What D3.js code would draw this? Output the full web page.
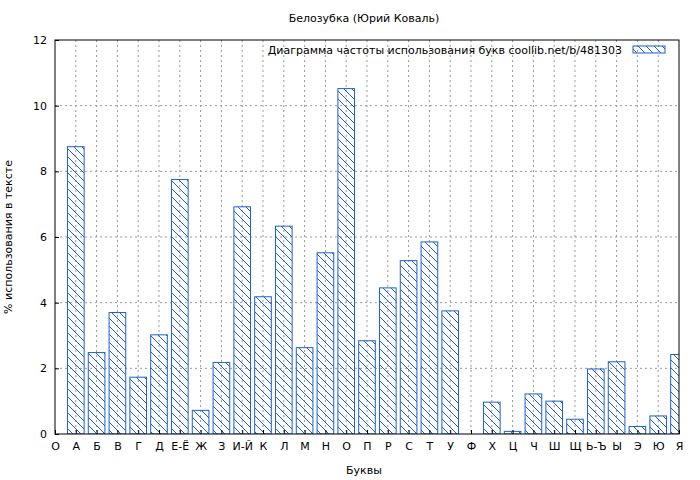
<!DOCTYPE html>
<html><head><meta charset="utf-8">
<script src="https://cdn.jsdelivr.net/npm/d3@7"></script>
<style>body{margin:0;background:#fff}text{font-family:"DejaVu Sans",sans-serif;font-size:11px}</style>
</head><body><svg id="c" width="700" height="480"></svg>
<script>
const letters = ['О','А','Б','В','Г','Д','Е-Ё','Ж','З','И-Й','К','Л','М','Н','О','П','Р','С','Т','У','Ф','Х','Ц','Ч','Ш','Щ','Ь-Ъ','Ы','Э','Ю','Я'];
const values = [8.75,2.48,3.7,1.73,3.02,7.75,0.72,2.18,6.92,4.18,6.33,2.63,5.52,10.52,2.84,4.45,5.28,5.85,3.75,0,0.97,0.08,1.22,1.0,0.45,1.98,2.2,0.23,0.55,2.42];
const yTicks = [0,2,4,6,8,10,12];

const margin = {top: 40, right: 21, bottom: 46, left: 55};
const width = 700 - margin.left - margin.right;
const height = 480 - margin.top - margin.bottom;
const blue = '#1f5fcf';

const svg = d3.select('#c');
const defs = svg.append('defs');
const pat = defs.append('pattern').attr('id', 'hatch').attr('patternUnits', 'userSpaceOnUse')
  .attr('width', 8).attr('height', 8);
pat.append('path').attr('d', 'M-2,-2 L10,10 M-2,6 L2,10 M6,-2 L10,2').attr('stroke', blue).attr('stroke-width', 1);
defs.append('clipPath').attr('id', 'clip').append('rect').attr('width', width).attr('height', height);

const g = svg.append('g').attr('transform', `translate(${margin.left},${margin.top})`);
const x = d3.scaleLinear().domain([0, 30]).range([0, width]);
const y = d3.scaleLinear().domain([0, 12]).range([height, 0]);

// grid
g.selectAll('.gx').data(d3.range(1, 30)).enter().append('line')
  .attr('x1', d => x(d)).attr('x2', d => x(d)).attr('y1', 0).attr('y2', height)
  .attr('stroke', '#999').attr('stroke-dasharray', '2,3');
g.selectAll('.gy').data(yTicks.slice(1, -1)).enter().append('line')
  .attr('x1', 0).attr('x2', width).attr('y1', d => y(d)).attr('y2', d => y(d))
  .attr('stroke', '#999').attr('stroke-dasharray', '2,3');

// bars
g.append('g').attr('clip-path', 'url(#clip)').selectAll('rect').data(values).enter().append('rect')
  .attr('x', (d, i) => x(i + 1 - 0.4)).attr('width', x(0.8) - x(0))
  .attr('y', d => y(d)).attr('height', d => height - y(d))
  .attr('fill', 'url(#hatch)').attr('stroke', blue).attr('stroke-width', 1);

g.append('rect').attr('width', width).attr('height', height).attr('fill', 'none').attr('stroke', '#000');

// axes
const ax = g.append('g').attr('transform', `translate(0,${height})`)
  .call(d3.axisBottom(x).tickValues(d3.range(0, 31)).tickFormat(i => letters[i]).tickSizeInner(-4).tickSizeOuter(0).tickPadding(8));
const ay = g.append('g')
  .call(d3.axisLeft(y).tickValues(yTicks).tickSizeInner(-4).tickSizeOuter(0).tickPadding(8));
[ax, ay].forEach(a => { a.select('.domain').remove(); a.selectAll('text').style('font-size', '11px').attr('fill', '#000'); });

svg.append('text').attr('x', 364).attr('y', 22).attr('text-anchor', 'middle').text('Белозубка (Юрий Коваль)');
svg.append('text').attr('x', 364).attr('y', 474).attr('text-anchor', 'middle').text('Буквы');
svg.append('text').attr('transform', 'rotate(-90)').attr('x', -(margin.top + height / 2)).attr('y', 12)
  .attr('text-anchor', 'middle').text('% использования в тексте');

// legend
svg.append('text').attr('x', 622).attr('y', 54).attr('text-anchor', 'end')
  .text('Диаграмма частоты использования букв  coollib.net/b/481303');
svg.append('rect').attr('x', 633).attr('y', 46).attr('width', 32).attr('height', 7)
  .attr('fill', 'url(#hatch)').attr('stroke', blue);
</script></body></html>
